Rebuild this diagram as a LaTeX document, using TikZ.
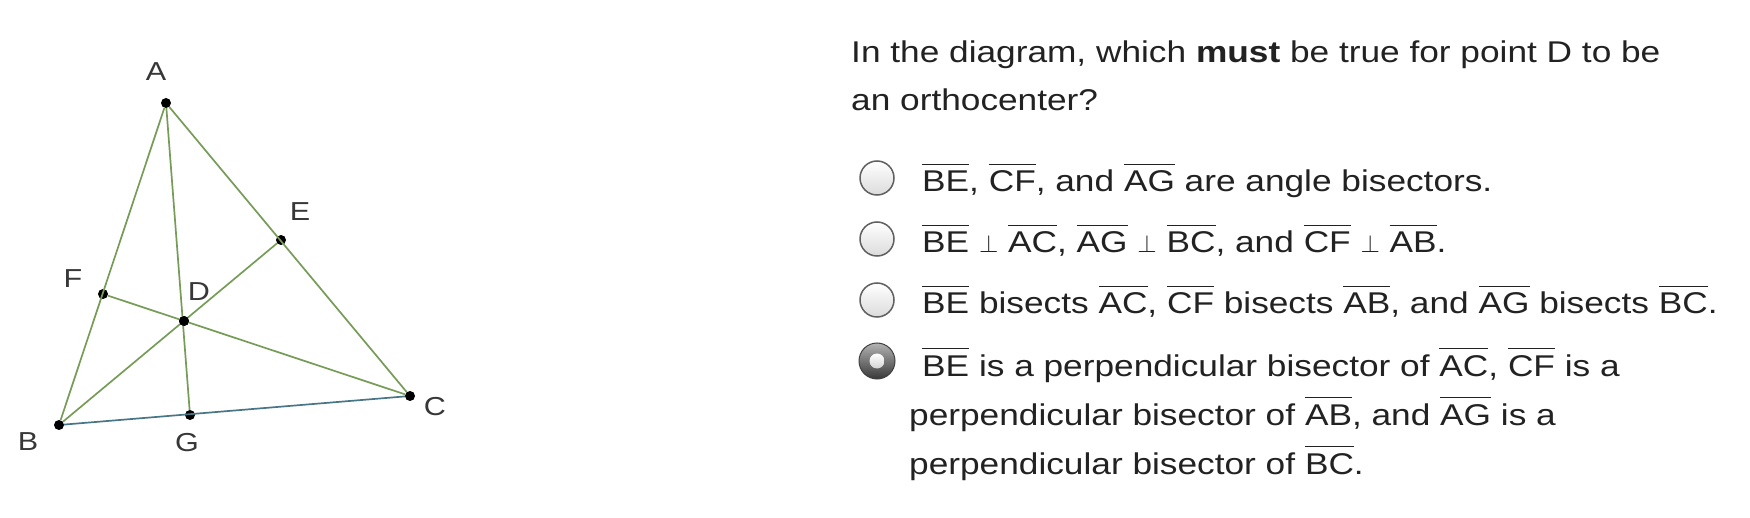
\documentclass[tikz,border=0pt]{standalone}
\usepackage{fontspec}
\setmainfont{Liberation Sans}[FakeStretch=1.175]
\usetikzlibrary{positioning}

\definecolor{segline}{RGB}{118,156,88}
\definecolor{bcline}{RGB}{72,118,134}
\definecolor{labelgray}{RGB}{55,55,55}
\definecolor{txtcol}{RGB}{34,34,34}

% segment with a bar over it
\newcommand\seg[1]{\vbox{\hrule height 1.3pt\kern 6pt\hbox{#1}}}
\newcommand\perpsym{{\fontsize{26}{26}\selectfont$\perp$}}

\begin{document}
\begin{tikzpicture}[x=1pt, y=-1pt,
    pt/.style={circle, fill=black, inner sep=0pt, minimum size=10pt},
    lbl/.style={inner sep=0pt, text=labelgray, font=\fontsize{26}{26}\selectfont},
    seg line/.style={draw=segline, line width=1.7pt},
    txt/.style={anchor=base west, inner sep=0pt, text=txtcol, font=\fontsize{30}{30}\selectfont},
    radio/.style={circle, draw=gray!75!black, line width=1.5pt, minimum size=34pt, inner sep=0pt, top color=white, bottom color=gray!28},
    chosen/.style={circle, draw=gray!50!black, line width=1pt, minimum size=36pt, inner sep=0pt, top color=gray!60, bottom color=black!78},
    chosendot/.style={circle, inner sep=0pt, minimum size=15pt, top color=white, bottom color=gray!35}]
    \path[fill=white] (0,0) rectangle (1750,518);
    \useasboundingbox (0,0) rectangle (1750,518);

    % triangle
    \node[pt] (A) at (166,103) {};
    \node[pt] (B) at (59,425) {};
    \node[pt] (C) at (410,396) {};
    \node[pt] (E) at (281,240) {};
    \node[pt] (F) at (103,294) {};
    \node[pt] (D) at (184,321) {};
    \node[pt] (G) at (190,415) {};
    \draw[seg line] (A) -- (B);
    \draw[seg line] (A) -- (C);
    \draw[draw=bcline, line width=1.7pt] (B) -- (C);
    \draw[seg line] (A) -- (G);
    \draw[seg line] (B) -- (E);
    \draw[seg line] (C) -- (F);
    \node[pt] (Dtop) at (D) {};

    \node[lbl] (lA) at (156,72) {A};
    \node[lbl] (lE) at (300,212) {E};
    \node[lbl] (lF) at (73,279) {F};
    \node[lbl] (lD) at (199,292) {D};
    \node[lbl] (lC) at (435,407) {C};
    \node[lbl] (lB) at (28,442) {B};
    \node[lbl] (lG) at (187,443) {G};

    % question
    \node[txt] (q1) at (851,62.5) {In the diagram, which \textbf{must} be true for point D to be};
    \node[txt] (q2) at (851,111) {an orthocenter?};

    % answers
    \node[radio] (r1) at (877,178) {};
    \node[radio] (r2) at (877,239) {};
    \node[radio] (r3) at (877,300) {};
    \node[chosen] (r4) at (877,361) {};
    \node[chosendot] (r4dot) at (r4) {};

    \node[txt] (o1) at (922,192) {\seg{BE}, \seg{CF}, and \seg{AG} are angle bisectors.};
    \node[txt] (o2) at (922,253) {\seg{BE} \perpsym\ \seg{AC}, \seg{AG} \perpsym\ \seg{BC}, and \seg{CF} \perpsym\ \seg{AB}.};
    \node[txt] (o3) at (922,314) {\seg{BE} bisects \seg{AC}, \seg{CF} bisects \seg{AB}, and \seg{AG} bisects \seg{BC}.};
    \node[txt] (o4) at (922,376) {\seg{BE} is a perpendicular bisector of \seg{AC}, \seg{CF} is a};
    \node[txt] (o4b) at (909,425) {perpendicular bisector of \seg{AB}, and \seg{AG} is a};
    \node[txt] (o4c) at (909,474) {perpendicular bisector of \seg{BC}.};
\end{tikzpicture}
\end{document}
